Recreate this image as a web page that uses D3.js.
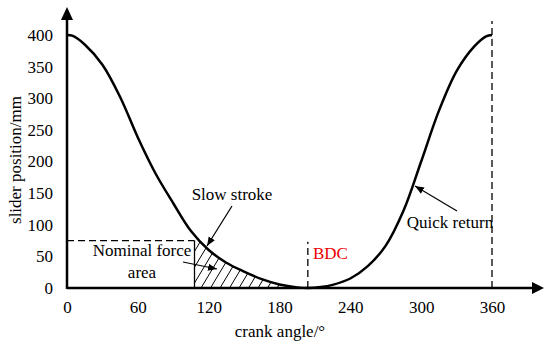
<!DOCTYPE html>
<html><head><meta charset="utf-8">
<script src="https://cdn.jsdelivr.net/npm/d3@7"></script>
<style>body{margin:0;background:#fff}svg{display:block}text{font-family:"Liberation Serif","Times New Roman",serif}</style>
</head><body><svg id="c" width="550" height="347"></svg>
<script>
const angles = [0,5,15,30,45,60,75,90,105,120,135,150,165,180,195,204,215,225,240,255,270,285,300,315,330,345,355,360];
const positions = [400,398.5,385,353,302,238,181,134,90,60,40,26,14,5.5,1,0,1.5,5,15,35,67,122,200,280,343,382,398,400];
const xTicks = [0,60,120,180,240,300,360];
const yTicks = [0,50,100,150,200,250,300,350,400];
const nominalForce = 75, nominalAngle = 108, bdcAngle = 204, bdcMark = 73;

const svg = d3.select("#c");
const x = d3.scaleLinear().domain([0,360]).range([67,492]);
const y = d3.scaleLinear().domain([0,400]).range([288,35]);
const data = angles.map((a,i)=>({a, p: positions[i]}));
const curve = d3.curveCatmullRom.alpha(0.5);

const defs = svg.append("defs");
defs.append("marker").attr("id","ah").attr("viewBox","0 0 10 10").attr("refX",10).attr("refY",5)
  .attr("markerWidth",9).attr("markerHeight",9).attr("markerUnits","userSpaceOnUse").attr("orient","auto")
  .append("path").attr("d","M0,1 L10,5 L0,9 Z").attr("fill","#000");

const area = d3.area().x(d=>x(d.a)).y0(y(0)).y1(d=>y(d.p)).curve(curve);
defs.append("clipPath").attr("id","underCurve").append("path").attr("d", area(data));
defs.append("clipPath").attr("id","rightOf").append("rect")
  .attr("x", x(nominalAngle)).attr("y", 0).attr("width", x(bdcAngle)-x(nominalAngle)).attr("height", y(0));

// hatch
const hg = svg.append("g").attr("clip-path","url(#rightOf)").append("g").attr("clip-path","url(#underCurve)");
const hTop = y(nominalForce+10), hBot = y(0);
hg.selectAll("line").data(d3.range(x(nominalAngle)-60, x(bdcAngle)+10, 9.5)).join("line")
  .attr("x1", d=>d).attr("y1", hBot).attr("x2", d=>d+(hBot-hTop)*0.6).attr("y2", hTop)
  .attr("stroke","#000").attr("stroke-width",1);

// dashed nominal line
svg.append("line").attr("x1",x(0)).attr("x2",x(nominalAngle)).attr("y1",y(nominalForce)).attr("y2",y(nominalForce))
  .attr("stroke","#000").attr("stroke-width",1.3).attr("stroke-dasharray","7,4");
svg.append("line").attr("x1",x(nominalAngle)).attr("x2",x(nominalAngle)).attr("y1",y(nominalForce)).attr("y2",y(0))
  .attr("stroke","#000").attr("stroke-width",1.3);
// BDC dashed
svg.append("line").attr("x1",x(bdcAngle)).attr("x2",x(bdcAngle)).attr("y1",y(0)).attr("y2",y(bdcMark))
  .attr("stroke","#000").attr("stroke-width",1.3).attr("stroke-dasharray","7,4");
// 360 dashed
svg.append("line").attr("x1",x(360)).attr("x2",x(360)).attr("y1",y(0)).attr("y2",21)
  .attr("stroke","#000").attr("stroke-width",1.3).attr("stroke-dasharray","7,4");

// curve
svg.append("path").attr("d", d3.line().x(d=>x(d.a)).y(d=>y(d.p)).curve(curve)(data))
  .attr("fill","none").attr("stroke","#000").attr("stroke-width",2.5);

// axes
const xAxis = svg.append("g").attr("transform",`translate(0,${y(0)})`)
  .call(d3.axisBottom(x).tickValues(xTicks).tickSize(0).tickPadding(13));
const yAxis = svg.append("g").attr("transform",`translate(${x(0)},0)`)
  .call(d3.axisLeft(y).tickValues(yTicks).tickSize(0).tickPadding(14));
[xAxis,yAxis].forEach(g=>{
  g.attr("font-family",null);
  g.select(".domain").remove();
  g.selectAll("text").attr("font-size",17).attr("fill","#000");
});
// axis lines with arrows
svg.append("line").attr("x1",x(0)).attr("y1",y(0)).attr("x2",533).attr("y2",y(0)).attr("stroke","#000").attr("stroke-width",2.5);
svg.append("path").attr("d",`M544,${y(0)} L532,${y(0)-6} L532,${y(0)+6} Z`).attr("fill","#000");
svg.append("line").attr("x1",x(0)).attr("y1",y(0)+1).attr("x2",x(0)).attr("y2",19).attr("stroke","#000").attr("stroke-width",2.5);
svg.append("path").attr("d",`M${x(0)},7 L${x(0)-6},20 L${x(0)+6},20 Z`).attr("fill","#000");

// axis titles
svg.append("text").attr("x",280).attr("y",337).attr("text-anchor","middle").attr("font-size",17).text("crank angle/°");
svg.append("text").attr("transform","translate(21,160) rotate(-90)").attr("text-anchor","middle").attr("font-size",17).text("slider position/mm");

// annotations
const ann = svg.append("g").attr("font-size",17).attr("fill","#000");
ann.append("text").attr("x",232).attr("y",200).attr("text-anchor","middle").text("Slow stroke");
svg.append("line").attr("x1",232).attr("y1",206).attr("x2",207).attr("y2",246).attr("stroke","#000").attr("stroke-width",1.2).attr("marker-end","url(#ah)");
ann.append("text").attr("x",142).attr("y",256).attr("text-anchor","middle").text("Nominal force");
ann.append("text").attr("x",142).attr("y",278).attr("text-anchor","middle").text("area");
svg.append("line").attr("x1",183).attr("y1",262).attr("x2",217).attr("y2",269).attr("stroke","#000").attr("stroke-width",1.2).attr("marker-end","url(#ah)");
ann.append("text").attr("x",450).attr("y",228).attr("text-anchor","middle").text("Quick return");
svg.append("line").attr("x1",457).attr("y1",211).attr("x2",415).attr("y2",186).attr("stroke","#000").attr("stroke-width",1.2).attr("marker-end","url(#ah)");
ann.append("text").attr("x",313).attr("y",259).attr("fill","#e00").text("BDC");
</script></body></html>
